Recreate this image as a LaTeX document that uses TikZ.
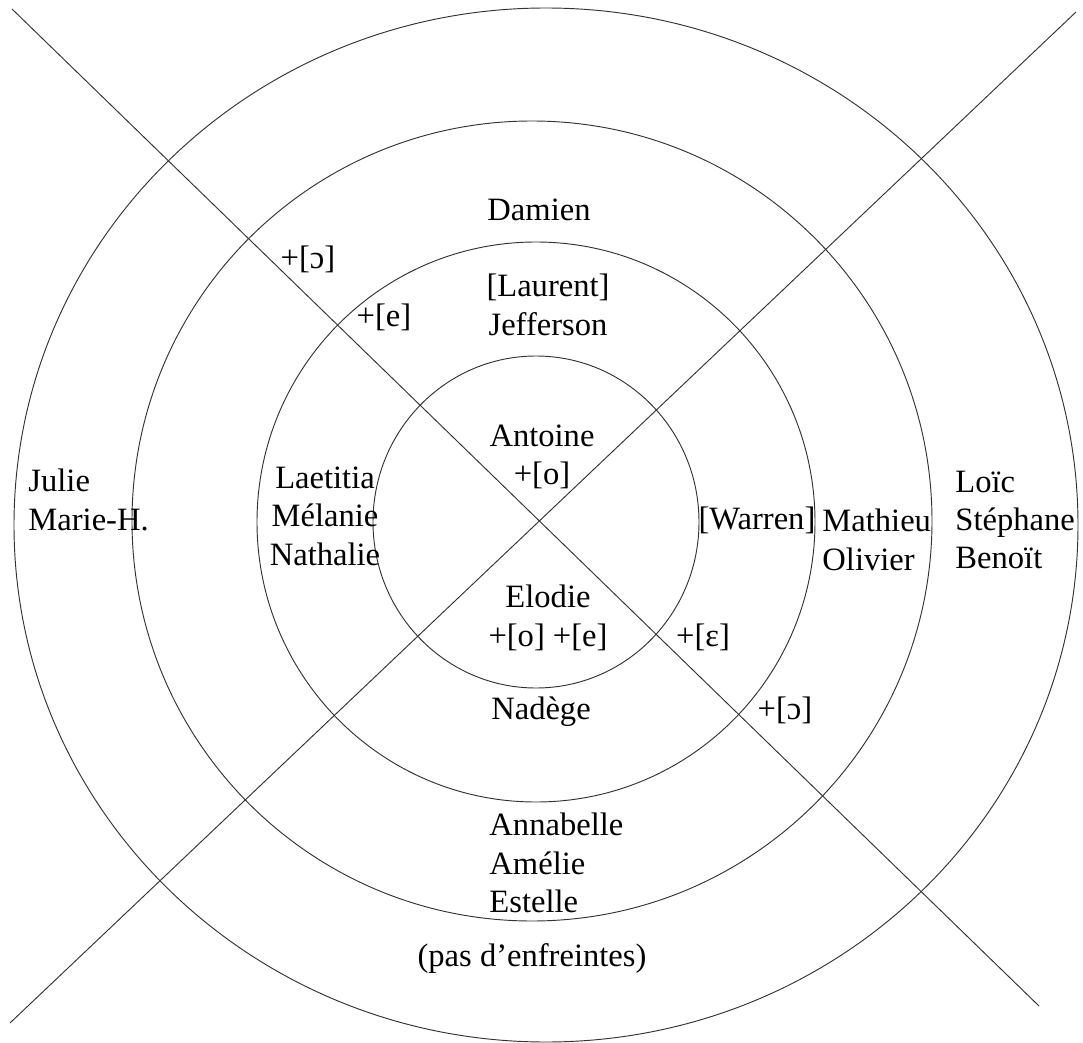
\documentclass[tikz,border=0pt]{standalone}
\usepackage{fontspec}
\setmainfont{Liberation Serif}
\tikzset{
	ring/.style={draw=black!80, thin, solid},
	cut/.style={draw=black!80, thin, solid},
	lbl/.style={black, inner sep=0pt, font=\fontsize{13.9}{16.4}\selectfont},
}
\begin{document}
\begin{tikzpicture}[x=0.015cm, y=-0.015cm]
		\useasboundingbox (0,0) rectangle (1083,1043);
		% rings
		\coordinate (c1) at (536,522);
		\coordinate (c2) at (536,522);
		\coordinate (c3) at (532,521);
		\coordinate (c4) at (546,525);
		\draw[ring] (c1) ellipse [x radius=163, y radius=166];
		\draw[ring] (c2) ellipse [x radius=279, y radius=280];
		\draw[ring] (c3) ellipse [x radius=400, y radius=400];
		\draw[ring] (c4) ellipse [x radius=532, y radius=517];
		% the two cuts
		\coordinate (tl) at (12,9);
		\coordinate (br) at (1039,1006);
		\coordinate (tr) at (1076,12);
		\coordinate (bl) at (10,1023);
		\draw[cut] (tl) -- (br);
		\draw[cut] (tr) -- (bl);
		% labels
		\node[lbl] (damien) at (539,210) {Damien};
		\node[lbl, align=center] (laurent) at (548,305) {[Laurent]\\Jefferson};
		\node[lbl] (oo1) at (308,259) {+[ɔ]};
		\node[lbl] (ee1) at (384,317) {+[e]};
		\node[lbl, align=center] (antoine) at (542,457) {Antoine\\+[o]};
		\node[lbl, align=center] (laetitia) at (325,516) {Laetitia\\Mélanie\\Nathalie};
		\node[lbl, align=left, anchor=west] (julie) at (28,500) {Julie\\Marie-H.};
		\node[lbl] (warren) at (757,520) {[Warren]};
		\node[lbl, align=left, anchor=west] (mathieu) at (822,540) {Mathieu\\Olivier};
		\node[lbl, align=left, anchor=west] (loic) at (955,520) {Loïc\\Stéphane\\Benoït};
		\node[lbl, align=center] (elodie) at (548,618) {Elodie\\+[o] +[e]};
		\node[lbl] (eps) at (703,637) {+[ε]};
		\node[lbl] (nadege) at (541,712) {Nadège};
		\node[lbl] (oo2) at (785,710) {+[ɔ]};
		\node[lbl, align=left, anchor=west] (annabelle) at (489,863) {Annabelle\\Amélie\\Estelle};
		\node[lbl] (pas) at (532,958) {(pas d’enfreintes)};
	\end{tikzpicture}
\end{document}
